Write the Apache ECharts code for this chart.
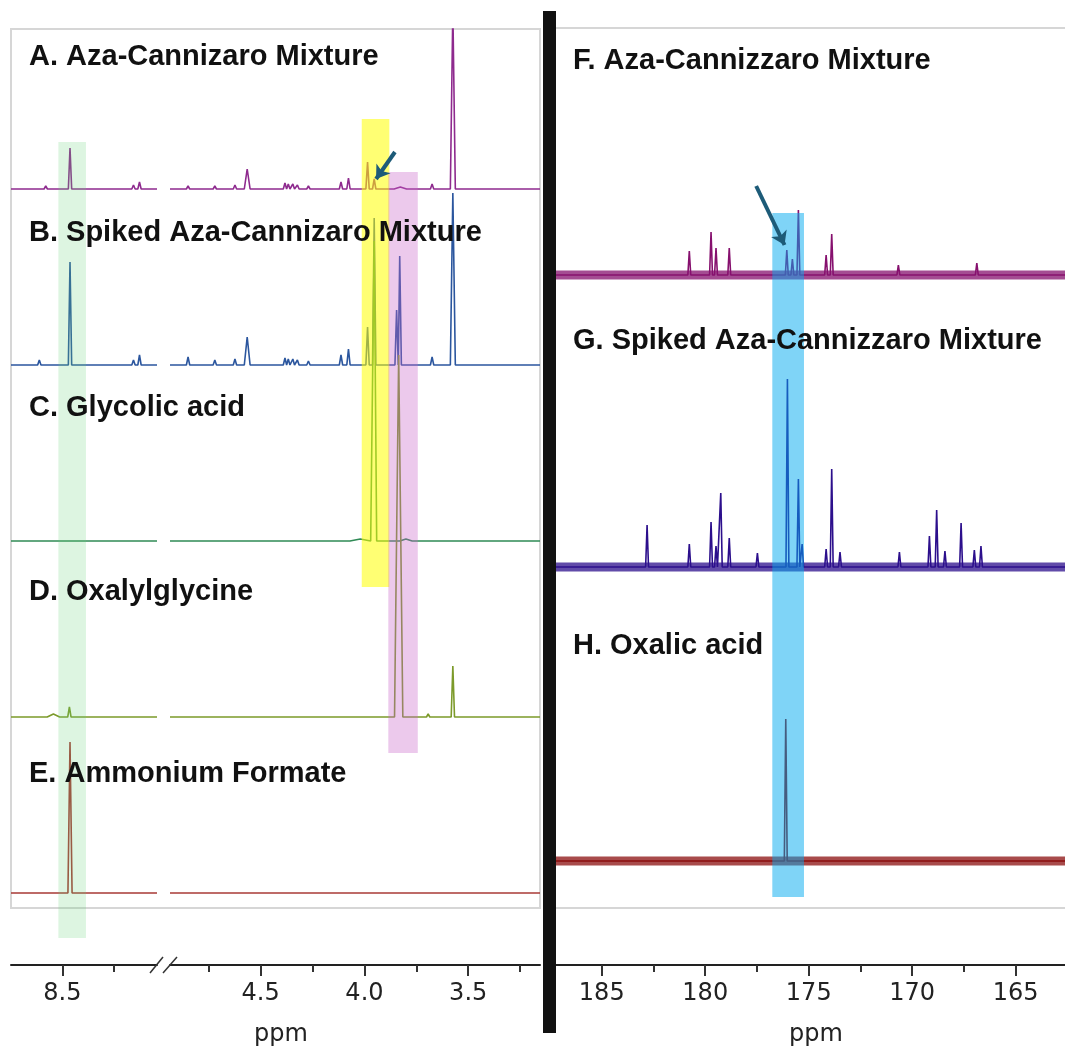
<!DOCTYPE html>
<html>
<head>
<meta charset="utf-8">
<title>NMR spectra</title>
<script src="https://cdn.jsdelivr.net/npm/echarts@6.0.0/dist/echarts.min.js"></script>
<style>
  html, body { margin: 0; padding: 0; background: #fff; }
  #main { width: 1065px; height: 1052px; }
</style>
</head>
<body>
<div id="main"></div>
<script>
//刻度
var ticksLeft = [8.5];
var minorLeft = [8.25];
var ticksMid = [4.5, 4.0, 3.5];
var minorMid = [4.75, 4.25, 3.75, 3.25];
var ticksC13 = [185, 180, 175, 170, 165];
var minorC13 = [182.5, 177.5, 172.5, 167.5];

//标题
var labels1H = ['A. Aza-Cannizaro Mixture', 'B. Spiked Aza-Cannizaro Mixture', 'C. Glycolic acid', 'D. Oxalylglycine', 'E. Ammonium Formate'];
var labels13C = ['F. Aza-Cannizzaro Mixture', 'G. Spiked Aza-Cannizzaro Mixture', 'H. Oxalic acid'];

//1H 峰 [ppm, 高度, 半宽(可选)]
var peaksA = [[8.580, 3], [8.463, 41], [8.157, 4], [8.128, 7],
  [4.850, 3], [4.721, 3], [4.624, 4], [4.565, 20, 0.014], [4.383, 6], [4.367, 5], [4.345, 5], [4.323, 4],
  [4.270, 3], [4.113, 7], [4.077, 11], [3.985, 27], [3.953, 10], [3.827, 2, 0.03], [3.674, 5], [3.574, 180, 0.012]];
var peaksB = [[8.611, 5], [8.463, 103], [8.157, 5], [8.128, 10],
  [4.850, 8], [4.721, 5], [4.624, 6], [4.565, 28, 0.014], [4.383, 7], [4.367, 6], [4.345, 6], [4.323, 5],
  [4.270, 4], [4.113, 10], [4.077, 16], [3.985, 38], [3.953, 147], [3.845, 55], [3.830, 109], [3.674, 8], [3.574, 172, 0.012]];
var peaksC = [[4.02, 2, 0.05], [3.953, 300, 0.012], [3.80, 2, 0.03]];
var peaksD = [[8.543, 3, 0.03], [8.466, 10], [3.835, 362, 0.02], [3.693, 3], [3.574, 51]];
var peaksE = [[8.463, 151, 0.01]];

//13C 峰
var peaksF = [[180.77, 24], [179.72, 43], [179.48, 27], [178.84, 27], [176.06, 25], [175.79, 16], [175.50, 65],
  [174.16, 20], [173.89, 41], [170.67, 10], [166.88, 12]];
var peaksG = [[182.81, 42], [180.77, 23], [179.72, 45], [179.48, 21], [179.25, 74], [178.84, 29], [177.48, 14],
  [176.03, 188], [175.50, 88], [175.32, 23], [174.16, 18], [173.89, 98], [173.49, 15], [170.62, 15], [169.17, 31],
  [168.82, 57], [168.42, 16], [167.64, 44], [167.00, 17], [166.68, 21]];
var peaksH = [[176.11, 142]];

//布局
var stackMax = 936;
var offsets1H = [776, 600, 424, 248, 72];
var offsets13C = [690, 398, 104];
var colors1H = ['#8e2a8e', '#2b569e', '#2f8a55', '#7c9a2a', '#a83a36'];
var colors13C = ['#86106e', '#2c0f8c', '#8b0f0f'];
var segLeft = [8.7475, 8.0436];
var segMid = [4.937, 3.154];
var segC13 = [187.21, 162.62];

function buildLine(peaks, range, offset, defW) {
  var hi = range[0], lo = range[1];
  var pts = [[hi, offset]];
  var last = hi;
  peaks.filter(function (p) { return p[0] <= hi && p[0] >= lo; })
    .sort(function (a, b) { return b[0] - a[0]; })
    .forEach(function (p) {
      var w = p[2] || defW;
      pts.push([Math.min(last, p[0] + w), offset]);
      pts.push([p[0], offset + p[1]]);
      pts.push([p[0] - w, offset]);
      last = p[0] - w;
    });
  pts.push([lo, offset]);
  return pts;
}

function lineSeries(xi, data, color, width, opacity, z) {
  return {
    type: 'line', xAxisIndex: xi, yAxisIndex: xi / 2, data: data,
    symbol: 'none', silent: true, animation: false, z: z || 2,
    lineStyle: { color: color, width: width, opacity: opacity == null ? 1 : opacity }
  };
}

function xAxisPair(grid, range, ticks, minor, fmt) {
  var base = {
    gridIndex: grid, type: 'value', position: 'bottom', inverse: true, min: range[1], max: range[0],
    splitLine: { show: false }
  };
  return [
    Object.assign({}, base, {
      axisLine: { lineStyle: { color: '#222', width: 2 } },
      axisTick: { customValues: ticks, length: 11, lineStyle: { color: '#333', width: 2 } },
      axisLabel: {
        customValues: ticks, margin: 17, fontSize: 24, fontFamily: 'DejaVu Sans', color: '#222',
        formatter: fmt
      }
    }),
    Object.assign({}, base, {
      axisLine: { show: false },
      axisTick: { customValues: minor, length: 7, lineStyle: { color: '#333', width: 2 } },
      axisLabel: { show: false }
    })
  ];
}

//高亮带放在上层
function bandSeries(xi, range, areas, arrows) {
  return {
    type: 'line', xAxisIndex: xi, yAxisIndex: xi / 2, data: [[range[0], 0]],
    symbol: 'none', silent: true, animation: false, zlevel: 1, z: 10,
    lineStyle: { opacity: 0 },
    markArea: {
      silent: true, zlevel: 1, z: 10,
      data: areas.map(function (a) {
        return [{ xAxis: a[0], yAxis: a[3], itemStyle: { color: a[4] } }, { xAxis: a[1], yAxis: a[2] }];
      })
    },
    markLine: {
      silent: true, zlevel: 1, z: 11, symbol: ['none', 'arrow'], symbolSize: [13, 13],
      label: { show: false },
      lineStyle: { color: '#1d5b78', width: 4, type: 'solid' },
      data: arrows.map(function (a) {
        return [{ coord: a[0] }, { coord: a[1] }];
      })
    }
  };
}

function renderSpectra() {
  var myChart = echarts.init(document.getElementById('main'));
  var peaks1H = [peaksA, peaksB, peaksC, peaksD, peaksE];
  var peaks13C = [peaksF, peaksG, peaksH];
  var series = [];

  peaks1H.forEach(function (pk, i) {
    series.push(lineSeries(0, buildLine(pk, segLeft, offsets1H[i], 0.008), colors1H[i], 1.6));
    series.push(lineSeries(2, buildLine(pk, segMid, offsets1H[i], 0.008), colors1H[i], 1.6));
  });
  peaks13C.forEach(function (pk, i) {
    //噪声带
    series.push(lineSeries(4, [[segC13[0], offsets13C[i]], [segC13[1], offsets13C[i]]], colors13C[i], 9, 0.75, 1));
    series.push(lineSeries(4, buildLine(pk, segC13, offsets13C[i], 0.07), colors13C[i], 1.6));
  });

  //高亮区 [ppm1, ppm2, y下, y上, 颜色]
  series.push(bandSeries(0, segLeft, [[8.519, 8.386, 27, 823, 'rgba(100,210,120,0.22)']], []));
  series.push(bandSeries(2, segMid, [
    [4.013, 3.880, 378, 846, 'rgba(255,255,0,0.55)'],
    [3.885, 3.743, 212, 793, 'rgba(200,100,200,0.35)']
  ], [[[3.853, 813], [3.944, 786]]]));
  series.push(bandSeries(4, segC13, [[176.76, 175.23, 68, 752, 'rgba(0,170,240,0.5)']],
    [[[177.54, 779], [176.17, 720]]]));

  var xAxes = []
    .concat(xAxisPair(0, segLeft, ticksLeft, minorLeft, function (v) { return v.toFixed(1); }))
    .concat(xAxisPair(1, segMid, ticksMid, minorMid, function (v) { return v.toFixed(1); }))
    .concat(xAxisPair(2, segC13, ticksC13, minorC13, function (v) { return String(v); }));

  var yAxes = [0, 1, 2].map(function (g) {
    return { gridIndex: g, type: 'value', min: 0, max: stackMax, show: false };
  });

  var graphics = [
    { type: 'rect', shape: { x: 11, y: 29, width: 529, height: 879 }, style: { fill: 'none', stroke: '#d6d6d6', lineWidth: 2 }, z: 0 },
    { type: 'polyline', shape: { points: [[556, 28], [1065, 28]] }, style: { stroke: '#d6d6d6', lineWidth: 2 }, z: 0 },
    { type: 'polyline', shape: { points: [[556, 908], [1065, 908]] }, style: { stroke: '#d6d6d6', lineWidth: 2 }, z: 0 },
    { type: 'line', shape: { x1: 150, y1: 973, x2: 163, y2: 957 }, style: { stroke: '#333', lineWidth: 1.5 }, z: 50 },
    { type: 'line', shape: { x1: 163, y1: 973, x2: 177, y2: 957 }, style: { stroke: '#333', lineWidth: 1.5 }, z: 50 },
    { type: 'rect', shape: { x: 543, y: 11, width: 13, height: 1022 }, style: { fill: '#111' }, zlevel: 2, z: 50 },
    { type: 'text', x: 281, y: 1035, style: { text: 'ppm', font: '24px "DejaVu Sans"', fill: '#222', align: 'center', verticalAlign: 'middle' }, z: 50 },
    { type: 'text', x: 816, y: 1035, style: { text: 'ppm', font: '24px "DejaVu Sans"', fill: '#222', align: 'center', verticalAlign: 'middle' }, z: 50 }
  ];
  var labelY1H = [57, 233, 408, 592, 774];
  var labelY13C = [61, 341, 646];
  labels1H.forEach(function (t, i) {
    graphics.push({ type: 'text', x: 29, y: labelY1H[i], zlevel: 2, z: 60,
      style: { text: t, font: 'bold 29px "Liberation Sans", Arial', fill: '#111', verticalAlign: 'middle' } });
  });
  labels13C.forEach(function (t, i) {
    graphics.push({ type: 'text', x: 573, y: labelY13C[i], zlevel: 2, z: 60,
      style: { text: t, font: 'bold 29px "Liberation Sans", Arial', fill: '#111', verticalAlign: 'middle' } });
  });

  var options = {
    backgroundColor: '#fff',
    animation: false,
    grid: [
      { left: 11, right: 1065 - 157, top: 29, bottom: 87 },
      { left: 170, right: 1065 - 540, top: 29, bottom: 87 },
      { left: 556, right: 0, top: 29, bottom: 87 }
    ],
    xAxis: xAxes,
    yAxis: yAxes,
    series: series,
    graphic: graphics
  };
  myChart.setOption(options, true);
}

renderSpectra();
</script>
</body>
</html>
